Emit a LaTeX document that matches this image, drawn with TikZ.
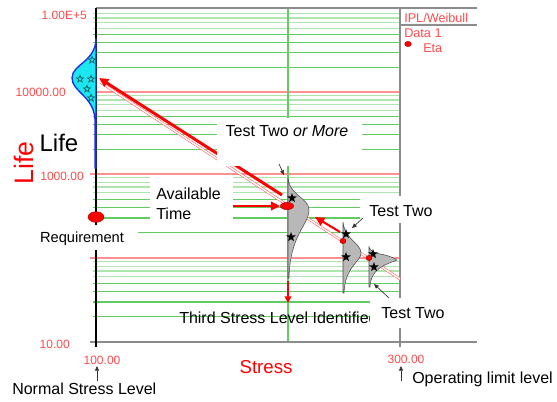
\documentclass[tikz,border=0pt]{standalone}
\usepackage{fontspec}
\setmainfont{Liberation Sans}
\usetikzlibrary{arrows.meta,shapes.geometric}
\definecolor{lblred}{HTML}{FF4B4B}
\definecolor{gridgreen}{HTML}{62CC62}
\definecolor{gridlight}{HTML}{AEE4AE}
\definecolor{decred}{HTML}{FF9090}
\definecolor{pdfblue}{HTML}{1E2FE0}
\definecolor{pdfcyan}{HTML}{1CE6F2}
\tikzset{frame/.style={draw=black!45,line width=1.2pt},gmaj/.style={draw=gridgreen,line width=0.9pt},gmin/.style={draw=gridlight,line width=0.9pt},decline/.style={draw=decred,line width=0.9pt},mask/.style={fill=white},ticklbl/.style={text=lblred,font=\fontsize{9}{10}\selectfont,inner sep=0pt},note/.style={font=\fontsize{12}{14}\selectfont,inner sep=0pt},pdfgrey/.style={draw=black!70,fill=black!28,line width=0.4pt},bstar/.style={star,star points=5,star point ratio=2.4,fill=black,inner sep=0pt,minimum size=7.5pt},cstar/.style={star,star points=5,star point ratio=2.4,draw=teal!60!black,line width=0.45pt,inner sep=0pt,minimum size=5.5pt},reddot/.style={ellipse,draw=red!60!black,fill=red,inner sep=0pt,line width=0.3pt},redarrow/.style={draw=red,line width=1.6pt,-{Triangle[length=7pt,width=6.5pt]}},ptr/.style={draw=black!80,line width=0.5pt,-{Triangle[length=3.5pt,width=3pt]}}}

\begin{document}
\begin{tikzpicture}[x=0.75pt,y=-0.75pt]
\useasboundingbox (0,0) rectangle (557,401);
% log grid
\foreach \yb/\dy in {342/84,258/84,174/82,92/82}{
  \foreach \k in {2,...,9}{
    \pgfmathsetmacro\yk{\yb-\dy*log10(\k)}
    \ifnum\k<6 \draw[gmaj] (93,\yk) -- (400,\yk); \else \draw[gmin] (93,\yk) -- (400,\yk); \fi
  }
}
\foreach \yd in {92,174,258} \draw[decline] (90,\yd) -- (400,\yd);
\draw[gmaj] (288,8) -- (288,342);
% frame and axes
\draw[frame] (96,8) -- (477,8);
\draw[frame] (400,25) -- (477,25);
\draw[frame] (400,8) -- (400,347);
\draw[frame] (90,342) -- (477,342);
\draw[black,line width=2pt] (96,8) -- (96,347);
% IPL line and trend arrow
\coordinate (iplA) at (100,82);
\coordinate (iplB) at (400,279);
\draw[draw=red!65,double=white,line width=0.4pt,double distance=1.1pt] (iplA) -- (iplB);
\coordinate (trendS) at (282,195);
\coordinate (trendE) at (99,78);
\draw[redarrow,line width=2.2pt] (trendS) -- (trendE);
\node[note,anchor=west] (third) at (179,318) {Third Stress Level Identified};
% white boxes behind the notes
\fill[mask] (217,118) rectangle (362,166);
\fill[mask] (150,176) rectangle (233,226);
\fill[mask] (35,225) rectangle (138,250);
\fill[mask] (360,196) rectangle (442,223);
\fill[mask] (370,298) rectangle (452,328);
% use level pdf
\draw[pdfblue,fill=pdfcyan,line width=1pt] (96,38) .. controls (96,62) and (72,64) .. (72,78) .. controls (72,92) and (94,96) .. (95,120) -- (95,168) -- (96,168) -- cycle;
\foreach \sx/\sy [count=\i] in {92/60,80/79,91/79,87/89,91/98}
  \node[cstar] (c\i) at (\sx,\sy) {};
\node[reddot,minimum width=12pt,minimum height=8pt] (req) at (96,217) {};
% stress level pdfs
\draw[pdfgrey] (288,178) .. controls (290,196) and (309,198) .. (309,210) .. controls (309,225) and (290,234) .. (289,278) -- (288,278) -- cycle;
\draw[pdfgrey] (343,222) .. controls (345,240) and (361,243) .. (361,253) .. controls (361,262) and (345,266) .. (344,293) -- (343,293) -- cycle;
\draw[pdfgrey] (369,247) .. controls (372,256) and (385,252) .. (397,260) .. controls (385,265) and (371,268) .. (370,287) -- (369,287) -- cycle;
\foreach \sx/\sy [count=\i] in {292/198,291/237,346/234,346/257,373/254,374/267}
  \node[bstar] (b\i) at (\sx,\sy) {};
\node[reddot,minimum width=10pt,minimum height=5.5pt] (d1) at (287,206) {};
\node[reddot,minimum width=4.5pt,minimum height=4pt] (d2) at (343,241) {};
\node[reddot,minimum width=4.5pt,minimum height=4pt] (d3) at (369,258) {};
% labels
\node[ticklbl,anchor=east] (t5) at (87,15) {1.00E+5};
\node[ticklbl,anchor=east] (t4) at (66,92) {10000.00};
\node[ticklbl,anchor=east] (t3) at (84,176) {1000.00};
\node[ticklbl,anchor=east] (t1) at (70,344) {10.00};
\node[ticklbl] (s100) at (102,360) {100.00};
\node[ticklbl] (s300) at (406,359) {300.00};
\node[ticklbl,anchor=west,font=\fontsize{9.5}{11}\selectfont] (leg) at (404,18) {IPL/Weibull};
\node[ticklbl,anchor=west,font=\fontsize{9.5}{11}\selectfont] (legd) at (404,33) {Data 1};
\node[reddot,minimum width=5pt,minimum height=4pt] (legdot) at (408,44) {};
\node[ticklbl,anchor=west,font=\fontsize{9.5}{11}\selectfont] (legeta) at (423,48) {Eta};
\node[text=red,font=\fontsize{20}{24}\selectfont,rotate=90,inner sep=0pt] (lifeR) at (24,163) {Life};
\node[font=\fontsize{18}{22}\selectfont,inner sep=0pt] (lifeB) at (59,143) {Life};
\node[text=red,font=\fontsize{14}{16}\selectfont,inner sep=0pt] (stress) at (266,367) {Stress};
\node[note,font=\fontsize{11}{13}\selectfont] (reqlbl) at (82,239) {Requirement};
\node[note,align=left,anchor=west] (avail) at (156,204) {Available\\[1pt]Time};
\node[note] (more) at (287,131) {Test Two \textit{or More}};
\node[note] (two1) at (401,211) {Test Two};
\node[note] (two2) at (413,313) {Test Two};
\node[note,anchor=west] (normal) at (12,389) {Normal Stress Level};
\node[note,anchor=base west] (oplim) at (412,383) {Operating limit level};
% red arrows
\coordinate (availS) at (233,206);
\draw[redarrow] (availS) -- (d1.west);
\coordinate (upS) at (340,232);
\coordinate (upE) at (315,217);
\draw[redarrow] (upS) -- (upE);
\coordinate (downS) at (288,281);
\coordinate (downE) at (288,303);
\draw[redarrow,-{Triangle[length=5pt,width=5pt]}] (downS) -- (downE);
% pointers
\coordinate (moreS) at (279,164);
\coordinate (moreE) at (284,175);
\draw[ptr] (moreS) -- (moreE);
\coordinate (two1S) at (363,218);
\coordinate (two1E) at (352,228);
\draw[ptr] (two1S) -- (two1E);
\coordinate (two2S) at (389,298);
\coordinate (two2E) at (374,284);
\draw[ptr] (two2S) -- (two2E);
\coordinate (normalS) at (97,381);
\coordinate (normalE) at (97,366);
\draw[ptr] (normalS) -- (normalE);
\coordinate (oplimS) at (401,381);
\coordinate (oplimE) at (401,366);
\draw[ptr] (oplimS) -- (oplimE);
\end{tikzpicture}
\end{document}
